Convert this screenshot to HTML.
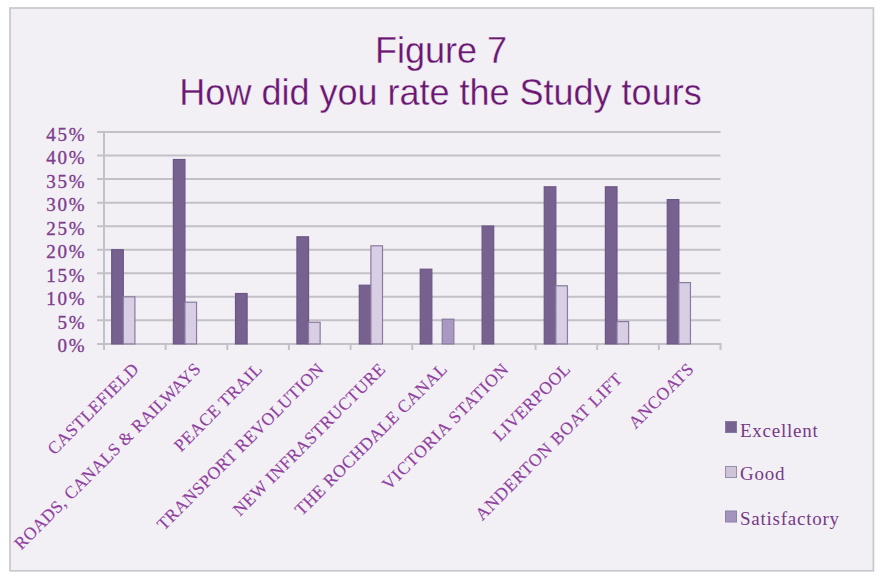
<!DOCTYPE html><html><head><meta charset="utf-8"><style>
html,body{margin:0;padding:0;background:#fff;width:882px;height:578px;overflow:hidden}
svg{display:block}
.t{font-family:"Liberation Sans",sans-serif;font-size:36px;fill:#6a1672;stroke:#f2f0f5;stroke-width:0.3px}
.yl{font-family:"Liberation Serif",serif;font-size:19px;fill:#7e3e8e;stroke:#7e3e8e;stroke-width:0.35px;letter-spacing:1.7px}
.cl{font-family:"Liberation Serif",serif;font-size:17.5px;fill:#9040a0;stroke:#9040a0;stroke-width:0.15px;letter-spacing:0.5px}
.lg{font-family:"Liberation Serif",serif;font-size:19px;fill:#763a86;letter-spacing:0.75px}
</style></head><body>
<svg width="882" height="578" viewBox="0 0 882 578">
<rect x="10" y="8" width="863.4" height="562.8" fill="#f2f0f5" stroke="#c8c7cc" stroke-width="1.7"/>
<text class="t" x="441" y="63" text-anchor="middle">Figure 7</text>
<text class="t" x="440.5" y="105.3" text-anchor="middle">How did you rate the Study tours</text>

<line x1="97" y1="343.90" x2="720.5" y2="343.90" stroke="#c3c1c8" stroke-width="2"/>
<text class="yl" x="86.3" y="352.40" text-anchor="end">0%</text>
<line x1="97" y1="320.35" x2="720.5" y2="320.35" stroke="#c3c1c8" stroke-width="2"/>
<text class="yl" x="86.3" y="328.85" text-anchor="end">5%</text>
<line x1="97" y1="296.81" x2="720.5" y2="296.81" stroke="#c3c1c8" stroke-width="2"/>
<text class="yl" x="86.3" y="305.31" text-anchor="end">10%</text>
<line x1="97" y1="273.26" x2="720.5" y2="273.26" stroke="#c3c1c8" stroke-width="2"/>
<text class="yl" x="86.3" y="281.76" text-anchor="end">15%</text>
<line x1="97" y1="249.72" x2="720.5" y2="249.72" stroke="#c3c1c8" stroke-width="2"/>
<text class="yl" x="86.3" y="258.22" text-anchor="end">20%</text>
<line x1="97" y1="226.17" x2="720.5" y2="226.17" stroke="#c3c1c8" stroke-width="2"/>
<text class="yl" x="86.3" y="234.67" text-anchor="end">25%</text>
<line x1="97" y1="202.63" x2="720.5" y2="202.63" stroke="#c3c1c8" stroke-width="2"/>
<text class="yl" x="86.3" y="211.13" text-anchor="end">30%</text>
<line x1="97" y1="179.08" x2="720.5" y2="179.08" stroke="#c3c1c8" stroke-width="2"/>
<text class="yl" x="86.3" y="187.58" text-anchor="end">35%</text>
<line x1="97" y1="155.54" x2="720.5" y2="155.54" stroke="#c3c1c8" stroke-width="2"/>
<text class="yl" x="86.3" y="164.04" text-anchor="end">40%</text>
<line x1="97" y1="132.00" x2="720.5" y2="132.00" stroke="#c3c1c8" stroke-width="2"/>
<text class="yl" x="86.3" y="140.50" text-anchor="end">45%</text>
<line x1="104" y1="132" x2="104" y2="350" stroke="#c3c1c8" stroke-width="2"/>
<line x1="104.00" y1="343" x2="104.00" y2="350" stroke="#c3c1c8" stroke-width="2"/>
<line x1="165.65" y1="343" x2="165.65" y2="350" stroke="#c3c1c8" stroke-width="2"/>
<line x1="227.30" y1="343" x2="227.30" y2="350" stroke="#c3c1c8" stroke-width="2"/>
<line x1="288.95" y1="343" x2="288.95" y2="350" stroke="#c3c1c8" stroke-width="2"/>
<line x1="350.60" y1="343" x2="350.60" y2="350" stroke="#c3c1c8" stroke-width="2"/>
<line x1="412.25" y1="343" x2="412.25" y2="350" stroke="#c3c1c8" stroke-width="2"/>
<line x1="473.90" y1="343" x2="473.90" y2="350" stroke="#c3c1c8" stroke-width="2"/>
<line x1="535.55" y1="343" x2="535.55" y2="350" stroke="#c3c1c8" stroke-width="2"/>
<line x1="597.20" y1="343" x2="597.20" y2="350" stroke="#c3c1c8" stroke-width="2"/>
<line x1="658.85" y1="343" x2="658.85" y2="350" stroke="#c3c1c8" stroke-width="2"/>
<line x1="720.50" y1="343" x2="720.50" y2="350" stroke="#c3c1c8" stroke-width="2"/>
<rect x="111.70" y="249.70" width="11.60" height="94.20" fill="#77618f" stroke="#6c5686" stroke-width="1.2"/>
<rect x="123.30" y="296.80" width="11.60" height="47.10" fill="#d8cfe5" stroke="#8b7b9e" stroke-width="1.2"/>
<text class="cl" transform="translate(140.12,370.00) rotate(-45) scale(1,1)" text-anchor="end">CASTLEFIELD</text>
<rect x="173.35" y="159.50" width="11.60" height="184.40" fill="#77618f" stroke="#6c5686" stroke-width="1.2"/>
<rect x="184.95" y="302.20" width="11.60" height="41.70" fill="#d8cfe5" stroke="#8b7b9e" stroke-width="1.2"/>
<text class="cl" style="letter-spacing:0.3px" transform="translate(201.78,370.00) rotate(-45) scale(1,1)" text-anchor="end">ROADS, CANALS &amp; RAILWAYS</text>
<rect x="235.50" y="293.50" width="11.60" height="50.40" fill="#77618f" stroke="#6c5686" stroke-width="1.2"/>
<text class="cl" transform="translate(263.43,370.00) rotate(-45) scale(1,1)" text-anchor="end">PEACE TRAIL</text>
<rect x="296.95" y="236.80" width="11.60" height="107.10" fill="#77618f" stroke="#6c5686" stroke-width="1.2"/>
<rect x="308.55" y="322.30" width="11.60" height="21.60" fill="#d8cfe5" stroke="#8b7b9e" stroke-width="1.2"/>
<text class="cl" transform="translate(325.07,370.00) rotate(-45) scale(1,1)" text-anchor="end">TRANSPORT REVOLUTION</text>
<rect x="359.30" y="285.20" width="11.60" height="58.70" fill="#77618f" stroke="#6c5686" stroke-width="1.2"/>
<rect x="370.90" y="245.80" width="11.60" height="98.10" fill="#d8cfe5" stroke="#8b7b9e" stroke-width="1.2"/>
<text class="cl" transform="translate(386.73,370.00) rotate(-45) scale(1,1)" text-anchor="end">NEW INFRASTRUCTURE</text>
<rect x="420.25" y="269.20" width="11.60" height="74.70" fill="#77618f" stroke="#6c5686" stroke-width="1.2"/>
<rect x="442.25" y="319.20" width="11.60" height="24.70" fill="#a898c2" stroke="#8b7b9e" stroke-width="1.2"/>
<text class="cl" transform="translate(448.38,370.00) rotate(-45) scale(1,1)" text-anchor="end">THE ROCHDALE CANAL</text>
<rect x="482.10" y="226.00" width="11.60" height="117.90" fill="#77618f" stroke="#6c5686" stroke-width="1.2"/>
<text class="cl" style="letter-spacing:0.8px" transform="translate(510.02,370.00) rotate(-45) scale(1,1)" text-anchor="end">VICTORIA STATION</text>
<rect x="544.25" y="186.80" width="11.60" height="157.10" fill="#77618f" stroke="#6c5686" stroke-width="1.2"/>
<rect x="555.85" y="285.80" width="11.60" height="58.10" fill="#d8cfe5" stroke="#8b7b9e" stroke-width="1.2"/>
<text class="cl" transform="translate(571.67,370.00) rotate(-45) scale(1,1)" text-anchor="end">LIVERPOOL</text>
<rect x="605.40" y="186.80" width="11.60" height="157.10" fill="#77618f" stroke="#6c5686" stroke-width="1.2"/>
<rect x="617.00" y="321.60" width="11.60" height="22.30" fill="#d8cfe5" stroke="#8b7b9e" stroke-width="1.2"/>
<text class="cl" style="letter-spacing:0.8px" transform="translate(623.83,379.50) rotate(-45) scale(1,1)" text-anchor="end">ANDERTON BOAT LIFT</text>
<rect x="667.25" y="199.60" width="11.60" height="144.30" fill="#77618f" stroke="#6c5686" stroke-width="1.2"/>
<rect x="678.85" y="282.60" width="11.60" height="61.30" fill="#d8cfe5" stroke="#8b7b9e" stroke-width="1.2"/>
<text class="cl" transform="translate(694.98,370.00) rotate(-45) scale(1,1)" text-anchor="end">ANCOATS</text>
<rect x="725.5" y="421.5" width="11" height="11" fill="#78628f" stroke="#8a78a2" stroke-width="1"/>
<text class="lg" x="740" y="436.5">Excellent</text>
<rect x="725.5" y="466.5" width="11" height="11" fill="#cdc4da" stroke="#9a8eac" stroke-width="1"/>
<text class="lg" x="740" y="480">Good</text>
<rect x="725.5" y="511.0" width="11" height="11" fill="#a393bd" stroke="#8e80a6" stroke-width="1"/>
<text class="lg" x="740" y="524.7">Satisfactory</text>
</svg></body></html>
